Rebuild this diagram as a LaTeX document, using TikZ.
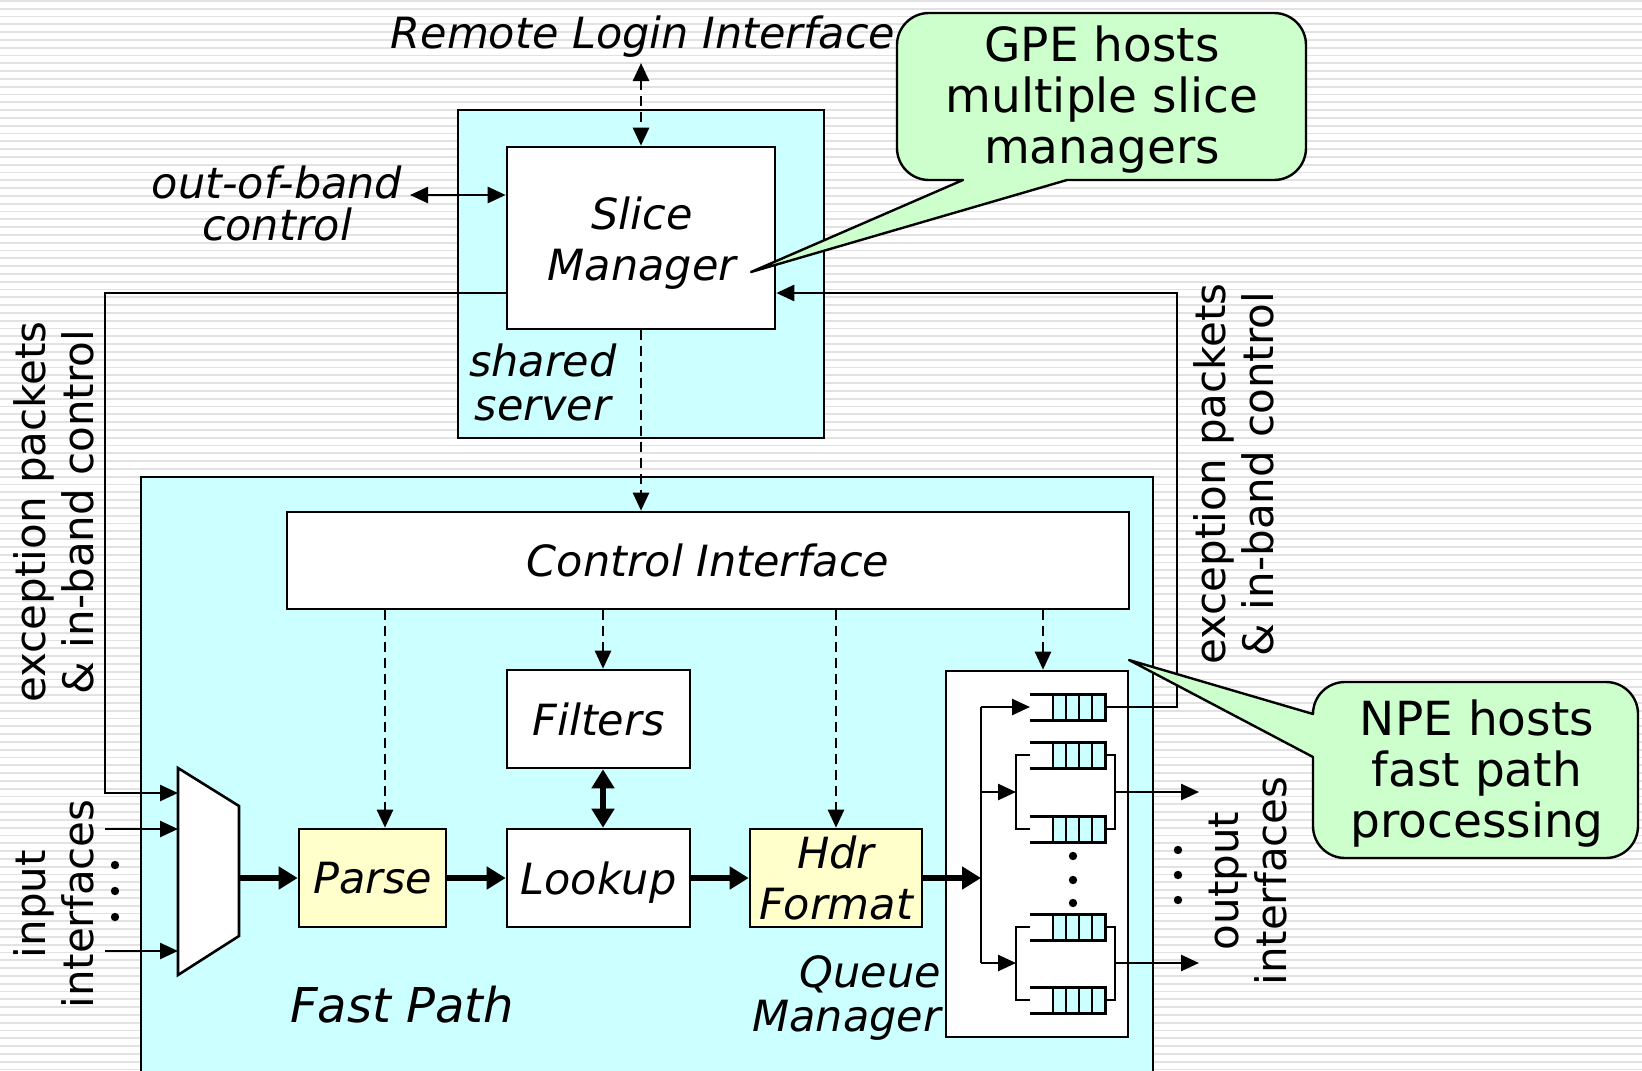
\documentclass[tikz,border=0pt]{standalone}
\usepackage{fontspec}
\setmainfont{DejaVu Sans}
\usetikzlibrary{arrows.meta,fit}

\definecolor{panel}{RGB}{204,255,255}
\definecolor{stage}{RGB}{255,255,204}
\definecolor{note}{RGB}{204,255,204}
\definecolor{stripecol}{RGB}{226,226,226}

\tikzset{
  lbl/.style={font=\fontsize{43}{44}\selectfont\itshape, inner sep=0pt, align=center},
  side/.style={font=\fontsize{42}{48}\selectfont, inner sep=0pt, align=center, rotate=90},
  note text/.style={font=\fontsize{47}{51}\selectfont, inner sep=0pt, align=center},
  blk/.style={draw, line width=2.6pt, inner sep=0pt, line join=miter},
  wire/.style={line width=2.6pt},
  flow/.style={wire, ->},
  ctl/.style={wire, dash pattern=on 10pt off 6pt, ->},
  bulk/.style={line width=5.8pt, -{Triangle[length=19pt,width=22pt]}},
  bulk2/.style={line width=5.8pt, {Triangle[length=19pt,width=22pt]}-{Triangle[length=19pt,width=22pt]}},
  bubble/.style={draw, line width=2.4pt, fill=note, line join=round},
  fifo/.pic={
    \fill[panel] (23,-13) rectangle (75,13);
    \draw[line width=1.6pt] (23,-13) -- (23,13) (36,-13) -- (36,13)
         (49,-13) -- (49,13) (62,-13) -- (62,13);
    \draw[line width=3pt, line join=miter] (0,-13) -- (75,-13) -- (75,13) -- (0,13);
    \coordinate (-in) at (0,0);
    \coordinate (-out) at (75,0);
  }
}

\begin{document}
\begin{tikzpicture}[x=1pt,y=-1pt,>={Triangle[length=18pt,width=16pt]}]
\useasboundingbox (0,0) rectangle (1642,1071);
\begin{scope}
\clip (0,0) rectangle (1642,1071);

% ruled backdrop
\fill[white] (0,0) rectangle (1642,1071);
\foreach \y in {0.8,8.6,...,1071} \draw[stripecol, line width=1.8pt] (0,\y) -- (1642,\y);

% containers
\node[blk, fill=panel, fit={(458,110) (824,438)}] (srv) {};
\node[blk, fill=panel, fit={(141,477) (1153,1120)}] (fp) {};

% shared server
\node[blk, fill=white, fit={(507,147) (775,329)}] (sm) {};
\node[lbl, font=\fontsize{43}{51}\selectfont\itshape] (smt) at (642,243) {Slice\\Manager};
\node[lbl] (srvt) at (543,382) {shared\\server};
\node[lbl] (rli) at (643,37) {Remote Login Interface};
\node[lbl, font=\fontsize{43}{42}\selectfont\itshape] (oob) at (277,203) {out-of-band\\control};

% fast path blocks
\node[blk, fill=white, fit={(287,512) (1129,609)}] (ci) {};
\node[blk, fill=white, fit={(507,670) (690,768)}] (flt) {};
\node[blk, fill=white, fit={(507,829) (690,927)}] (lku) {};
\node[blk, fill=stage, fit={(299,829) (446,927)}] (prs) {};
\node[blk, fill=stage, fit={(750,829) (922,927)}] (hdr) {};
\node[blk, fill=white, fit={(946,671) (1128,1037)}] (qm) {};

\node[lbl, text depth=0pt] (cit) at (ci.center) {Control Interface};
\node[lbl, text depth=0pt] (fltt) at (flt.center) {Filters};
\node[lbl, text depth=0pt] (lkut) at (lku.center) {Lookup};
\node[lbl, text depth=0pt] (prst) at (prs.center) {Parse};
\node[lbl, font=\fontsize{43}{51}\selectfont\itshape] (hdrt) at (836,878) {Hdr\\Format};
\node[lbl, align=right, anchor=east] (qmt) at (941,998) {Queue\\Manager};
\node[lbl, font=\fontsize{48}{48}\selectfont\itshape, anchor=base] (fpt) at (402,1022) {Fast Path};

% input multiplexer
\coordinate (mxa) at (178,768);
\coordinate (mxb) at (239,806);
\coordinate (mxc) at (239,936);
\coordinate (mxd) at (178,975);
\draw[blk, fill=white] (mxa) -- (mxb) -- (mxc) -- (mxd) -- cycle;
\coordinate (mxo) at (239,878);

% queues
\pic (q1) at (1030,707) {fifo};
\pic (q2) at (1030,755) {fifo};
\pic (q3) at (1030,829) {fifo};
\pic (q4) at (1030,927) {fifo};
\pic (q5) at (1030,1000) {fifo};

% ellipsis dots
\foreach \y in {856,880,903} \fill (1073,\y) circle (4.2);
\foreach \y in {850,875,900} \fill (1178,\y) circle (4.2);
\foreach \y in {865,891,917} \fill (115,\y) circle (4.2);

% helper coordinates
\coordinate (exy) at (0,293);
\coordinate (xl) at (105,0);
\coordinate (xr) at (1177,0);
\coordinate (in0) at (105,793);
\coordinate (in1) at (105,829);
\coordinate (in2) at (105,951);
\coordinate (rlb) at (641,63);
\coordinate (oobe) at (410,195);
\coordinate (dxP) at (385,0);
\coordinate (dxF) at (603,0);
\coordinate (dxQ) at (1043,0);
\coordinate (sp) at (981,878);
\coordinate (b2) at (981,792);
\coordinate (b3) at (981,963);
\coordinate (s2) at (1016,792);
\coordinate (s3) at (1016,963);
\coordinate (m2) at (1115,792);
\coordinate (m3) at (1115,963);
\coordinate (o2) at (1199,792);
\coordinate (o3) at (1199,963);

% control connections
\draw[wire, dash pattern=on 10pt off 6pt, <->] (rlb) -- (rlb |- sm.north);
\draw[wire, <->] (oobe) -- (sm.west |- oobe);
\draw[ctl] (sm.south) -- (sm.south |- ci.north);
\draw[ctl] (ci.south -| dxP) -- (prs.north -| dxP);
\draw[ctl] (ci.south -| dxF) -- (dxF |- flt.north);
\draw[ctl] (ci.south -| hdr.north) -- (hdr.north);
\draw[ctl] (ci.south -| dxQ) -- (qm.north -| dxQ);

% exception paths
\draw[flow] (sm.west |- exy) -- (xl |- exy) -- (in0) -- (mxa |- in0);
\draw[flow] (q1-out) -- (xr |- q1-out) -- (xr |- exy) -- (sm.east |- exy);

% inputs
\draw[flow] (in1) -- (mxa |- in1);
\draw[flow] (in2) -- (mxa |- in2);

% packet flow
\draw[bulk] (mxo) -- (prs.west);
\draw[bulk] (prs.east) -- (lku.west);
\draw[bulk] (lku.east) -- (hdr.west);
\draw[bulk2] (dxF |- flt.south) -- (dxF |- lku.north);
\draw[bulk] (hdr.east) -- (sp);

% queue manager fan-out
\draw[wire] (sp |- q1-in) -- (b3);
\draw[flow] (sp |- q1-in) -- (q1-in);
\draw[flow] (b2) -- (s2);
\draw[flow] (b3) -- (s3);
\draw[wire] (q2-in) -- (s2 |- q2-in) -- (s2 |- q3-in) -- (q3-in);
\draw[wire] (q4-in) -- (s3 |- q4-in) -- (s3 |- q5-in) -- (q5-in);
\draw[wire] (q2-out) -- (m2 |- q2-out) -- (m2 |- q3-out) -- (q3-out);
\draw[wire] (q4-out) -- (m3 |- q4-out) -- (m3 |- q5-out) -- (q5-out);
\draw[flow] (m2) -- (o2);
\draw[flow] (m3) -- (o3);

% side labels
\node[side] (exlt) at (54,512) {exception packets\\\& in-band control};
\node[side] (exrt) at (1234,474) {exception packets\\\& in-band control};
\node[side] (inlt) at (54,904) {input\\interfaces};
\node[side] (outt) at (1248,881) {output\\interfaces};

% callouts
\draw[bubble] (1000,13) -- (1274,13) .. controls (1291.7,13) and (1306,27.3) .. (1306,45)
  -- (1306,148) .. controls (1306,165.7) and (1291.7,180) .. (1274,180)
  -- (1067,180) -- (751,272) -- (963,180)
  -- (929,180) .. controls (911.3,180) and (897,165.7) .. (897,148)
  -- (897,45) .. controls (897,27.3) and (911.3,13) .. (929,13) -- cycle;
\node[note text] (gpet) at (1102,100) {GPE hosts\\multiple slice\\managers};

\draw[bubble] (1450,682) -- (1606,682) .. controls (1623.7,682) and (1638,696.3) .. (1638,714)
  -- (1638,826) .. controls (1638,843.7) and (1623.7,858) .. (1606,858)
  -- (1345,858) .. controls (1327.3,858) and (1313,843.7) .. (1313,826)
  -- (1313,757) -- (1129,660) -- (1313,714)
  .. controls (1313,696.3) and (1327.3,682) .. (1345,682) -- cycle;
\node[note text] (npet) at (1477,774) {NPE hosts\\fast path\\processing};
\end{scope}
\end{tikzpicture}
\end{document}
